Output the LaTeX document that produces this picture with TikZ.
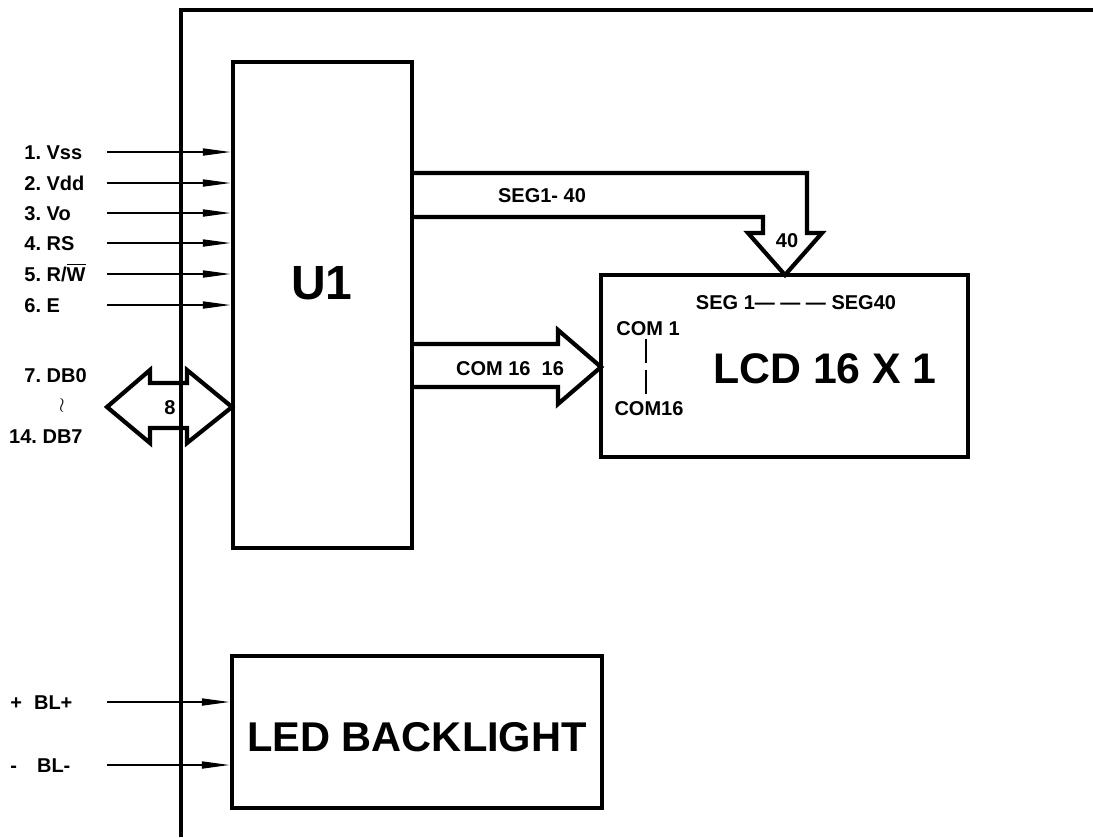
\documentclass[tikz,border=0pt]{standalone}
\usepackage{amsmath}
\usepackage{fontspec}
\setmainfont{Liberation Sans}
\usetikzlibrary{arrows.meta,positioning,calc}

\begin{document}
\frenchspacing
\begin{tikzpicture}[x=0.5pt,y=-0.5pt,>={Triangle[length=14pt,width=3.5pt]},
	box/.style={draw,line width=2.2pt,inner sep=0pt},
	pin/.style={font=\bfseries\fontsize{10}{12}\selectfont,inner sep=0pt,
		text height=7.2pt,text depth=0pt},
	big/.style={font=\bfseries\fontsize{21.4}{26}\selectfont,inner sep=0pt,
		text height=15.4pt,text depth=0pt},
	sig/.style={->,line width=0.9pt},
	bus/.style={line width=2.1pt,line join=miter}]

    \useasboundingbox (0,0) rectangle (1093,837);

    % module outline
    \draw[line width=2.2pt] (181,837) -- (181,10) -- (1093,10);

    % blocks
    \node[box,minimum width=89.5pt,minimum height=243pt] (U1) at (322.5,305) {};
    \node[big,font=\bfseries\fontsize{24}{28}\selectfont,text height=17.2pt] (u1t) at (322,282) {U1};
    \node[box,minimum width=183.5pt,minimum height=91pt] (lcd) at (784.5,366) {};
    \node[big] (lcdt) at (825,368) {LCD 16 X 1};
    \node[box,minimum width=185pt,minimum height=76pt] (led) at (417,732) {};
    \node[big,font=\bfseries\fontsize{20.8}{25}\selectfont] (ledt) at (417,736) {LED BACKLIGHT};

    % control inputs
    \coordinate (in1) at (107,152);
    \coordinate (in2) at (107,183);
    \coordinate (in3) at (107,213);
    \coordinate (in4) at (107,243);
    \coordinate (in5) at (107,274);
    \coordinate (in6) at (107,305);
    \node[pin,anchor=west] (vss) at (24,152) {1. Vss};
    \node[pin,anchor=west] (vdd) at (24,183) {2. Vdd};
    \node[pin,anchor=west] (vo) at (24,213) {3. Vo};
    \node[pin,anchor=west] (rs) at (24,243) {4. RS};
    \node[pin,anchor=west] (rw) at (24,274) {5. R/$\overline{\text{W}}$};
    \node[pin,anchor=west] (en) at (24,305) {6. E};
    \draw[sig] (in1) -- (in1 -| U1.west);
    \draw[sig] (in2) -- (in2 -| U1.west);
    \draw[sig] (in3) -- (in3 -| U1.west);
    \draw[sig] (in4) -- (in4 -| U1.west);
    \draw[sig] (in5) -- (in5 -| U1.west);
    \draw[sig] (in6) -- (in6 -| U1.west);

    % data bus
    \draw[bus] (107,407) -- (150,370) -- (150,383) -- (187,383) -- (187,370) -- (232,407)
        -- (187,443) -- (187,428) -- (150,428) -- (150,443) -- cycle;
    \node[pin] (dbw) at (170,407) {8};
    \node[pin,anchor=west] (db0) at (24,375) {7. DB0};
    \node[inner sep=0pt,font=\fontsize{10}{12}\selectfont] (dbto) at (62,405) {$\wr$};
    \node[pin,anchor=east] (db7) at (83,436) {14. DB7};

    % segment bus
    \draw[bus] (412,173) -- (807,173) -- (807,233) -- (822,233) -- (785,275)
        -- (748,233) -- (763,233) -- (763,217) -- (412,217);
    \node[pin] (segl) at (542,195) {SEG1- 40};
    \node[pin] (segn) at (787,240) {40};

    % common bus
    \draw[bus] (412,344) -- (558,344) -- (558,330) -- (601,367) -- (558,404)
        -- (558,387) -- (412,387);
    \node[pin] (coml) at (510,368) {COM 16\ \ 16};

    % inside the display
    \node[pin] (segs) at (796,302) {SEG 1— — — SEG40};
    \node[pin] (com1) at (648,328) {COM 1};
    \node[pin] (com16) at (649,408) {COM16};
    \draw[line width=0.6pt] (646,339) -- (646,363) (646,370) -- (646,394);

    % backlight
    \coordinate (blp) at (107,702);
    \coordinate (blm) at (107,765);
    \node[pin,anchor=west] (blpt) at (10,702) {+\hspace{6pt}BL+};
    \node[pin,anchor=west] (blmt) at (10,765) {-\hspace{10pt}BL-};
    \draw[sig] (blp) -- (blp -| led.west);
    \draw[sig] (blm) -- (blm -| led.west);

\end{tikzpicture}
\end{document}
